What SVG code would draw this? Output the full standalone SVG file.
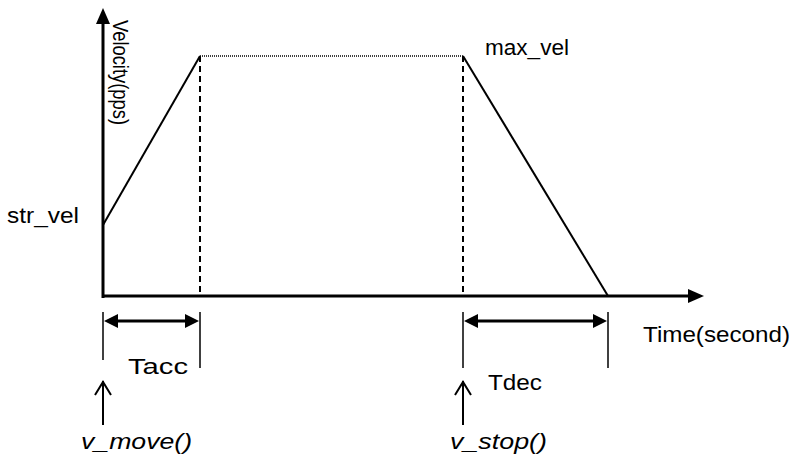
<svg xmlns="http://www.w3.org/2000/svg" width="794" height="456" viewBox="0 0 794 456">
<style>
.t{font-family:"Liberation Sans",Arial,sans-serif;font-size:22px;fill:#000}
.i{font-style:italic}
.ax{stroke:#000;stroke-width:3;fill:none}
.ln{stroke:#000;stroke-width:2;fill:none}
.tk{stroke:#000;stroke-width:1.5;fill:none}
</style>
<rect width="794" height="456" fill="#fff"/>
<g id="connectors">
<line class="ax" x1="103" y1="298" x2="103" y2="22"/>
<polygon points="103,8 96,24 110,24" fill="#000"/>
<line class="ax" x1="102" y1="296" x2="690" y2="296"/>
<polygon points="704,296 688,289 688,303" fill="#000"/>
<polyline class="ln" points="103,225 200,56"/>
<line stroke="#000" stroke-width="1.5" stroke-dasharray="1,1" x1="200" y1="56" x2="463" y2="56"/>
<polyline class="ln" points="463,56 608,296"/>
<line class="ln" stroke-dasharray="6,4" x1="200" y1="56" x2="200" y2="296"/>
<line class="ln" stroke-dasharray="6,4" x1="463" y1="56" x2="463" y2="296"/>
<line class="tk" x1="103" y1="312" x2="103" y2="360"/>
<line class="tk" x1="200" y1="312" x2="200" y2="368"/>
<line class="tk" x1="463" y1="312" x2="463" y2="368"/>
<line class="tk" x1="608" y1="312" x2="608" y2="368"/>
<line class="ax" x1="115" y1="321" x2="188" y2="321"/>
<polygon points="104,321 118,314 118,328" fill="#000"/>
<polygon points="199,321 185,314 185,328" fill="#000"/>
<line class="ax" x1="475" y1="321" x2="596" y2="321"/>
<polygon points="464,321 478,314 478,328" fill="#000"/>
<polygon points="607,321 593,314 593,328" fill="#000"/>
<line class="ln" x1="103" y1="381" x2="103" y2="425"/>
<polyline class="ln" points="95,395 103,382 111,395"/>
<line class="ln" x1="463" y1="381" x2="463" y2="425"/>
<polyline class="ln" points="455,395 463,382 471,395"/>
</g>
<g id="labels">
<text class="t" transform="translate(113,20) rotate(90)" textLength="105" lengthAdjust="spacingAndGlyphs">Velocity(pps)</text>
<text class="t" x="485" y="55" textLength="84" lengthAdjust="spacingAndGlyphs">max_vel</text>
<text class="t" x="7" y="223" textLength="72" lengthAdjust="spacingAndGlyphs">str_vel</text>
<text class="t" x="128" y="374" textLength="60" lengthAdjust="spacingAndGlyphs">Tacc</text>
<text class="t" x="488" y="390" textLength="54" lengthAdjust="spacingAndGlyphs">Tdec</text>
<text class="t" x="643" y="342" textLength="147" lengthAdjust="spacingAndGlyphs">Time(second)</text>
<text class="t i" x="81" y="449" textLength="111" lengthAdjust="spacingAndGlyphs">v_move()</text>
<text class="t i" x="450" y="449" textLength="97" lengthAdjust="spacingAndGlyphs">v_stop()</text>
</g>
</svg>
